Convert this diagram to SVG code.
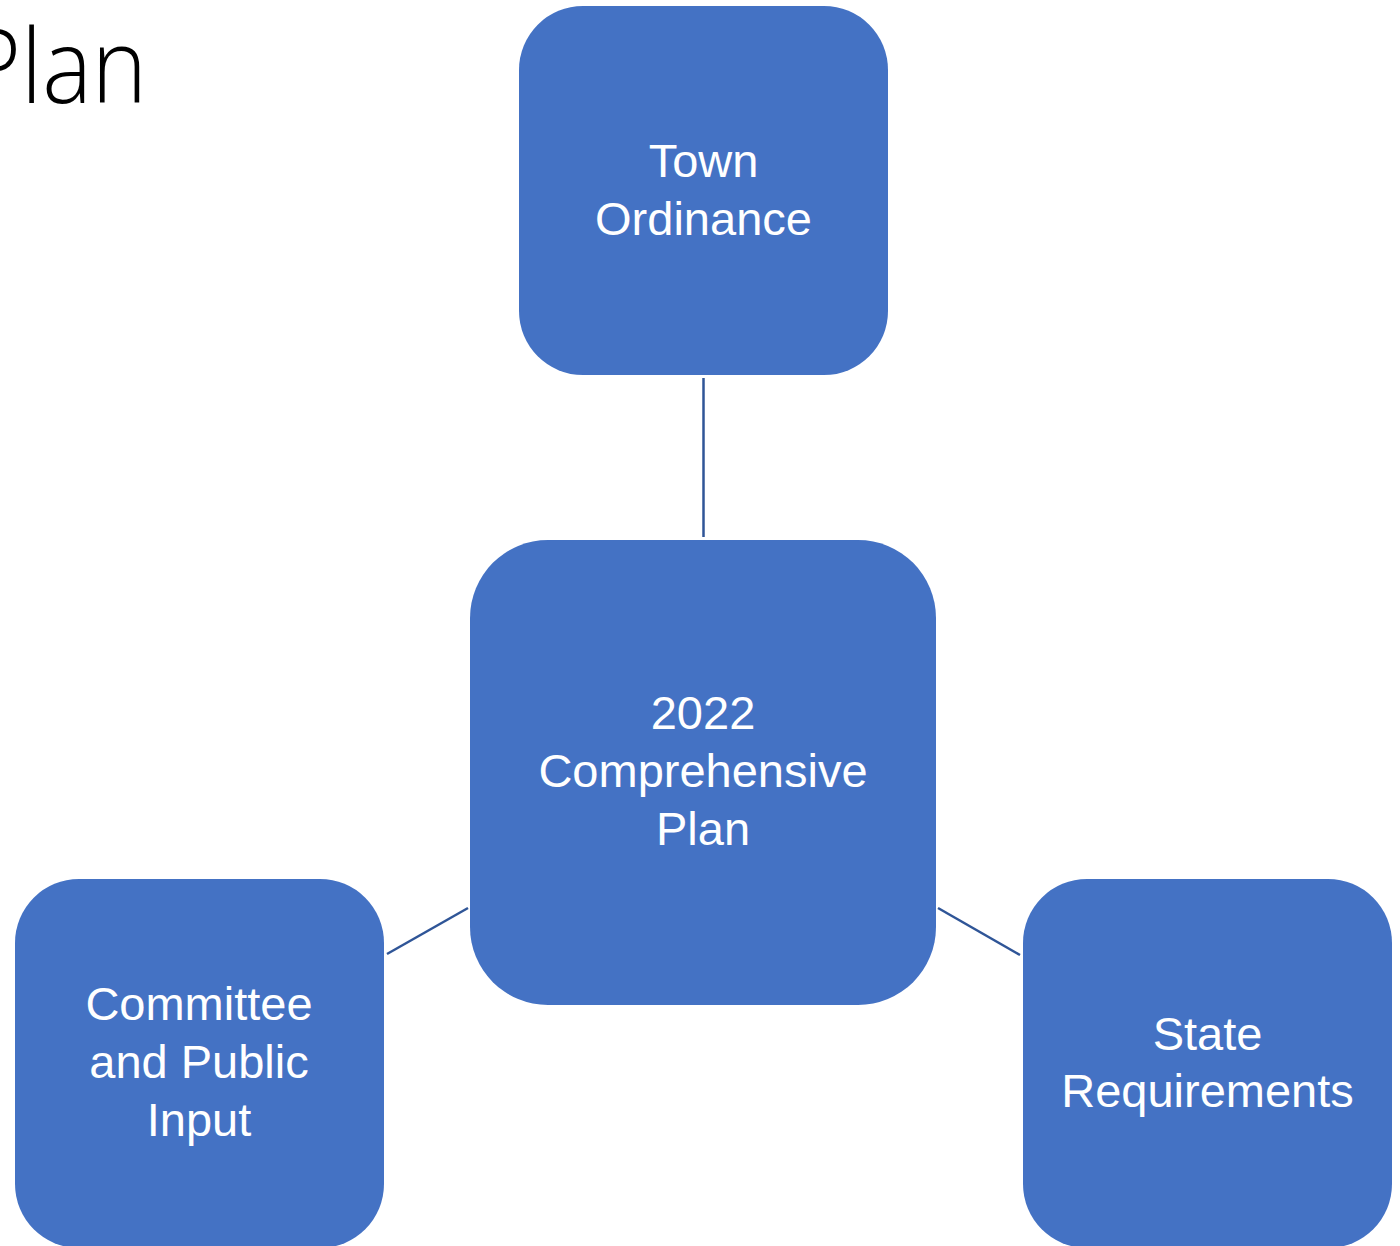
<svg xmlns="http://www.w3.org/2000/svg" width="1400" height="1246" viewBox="0 0 1400 1246">
<style>
.box{fill:#4472C4;}
.lbl{fill:#FFFFFF;font-family:"Liberation Sans",Arial,sans-serif;font-size:47px;text-anchor:middle;}
.conn{stroke:#2F5597;stroke-width:2.5;fill:none;}
.title{fill:#000000;font-family:"Open Sans","Liberation Sans",Arial,sans-serif;font-weight:300;font-size:104px;text-anchor:end;}
</style>
<rect width="1400" height="1246" fill="#FFFFFF"/>
<text class="title" transform="translate(147,103) scale(0.9,1)">Plan</text>
<g id="connectors">
<line class="conn" x1="703.5" y1="378" x2="703.5" y2="537"/>
<line class="conn" x1="387" y1="954" x2="468" y2="908"/>
<line class="conn" x1="938" y1="908" x2="1020" y2="955"/>
</g>
<g id="town-ordinance">
<rect class="box" x="519" y="6" width="369" height="369" rx="64"/>
<text class="lbl" x="703.5" y="177">Town</text>
<text class="lbl" x="703.5" y="235">Ordinance</text>
</g>
<g id="comprehensive-plan">
<rect class="box" x="470" y="540" width="466" height="465" rx="78"/>
<text class="lbl" x="703" y="729">2022</text>
<text class="lbl" x="703" y="787">Comprehensive</text>
<text class="lbl" x="703" y="845">Plan</text>
</g>
<g id="committee-public-input">
<rect class="box" x="15" y="879" width="369" height="369" rx="64"/>
<text class="lbl" x="199" y="1020">Committee</text>
<text class="lbl" x="199" y="1078">and Public</text>
<text class="lbl" x="199" y="1136">Input</text>
</g>
<g id="state-requirements">
<rect class="box" x="1023" y="879" width="369" height="369" rx="64"/>
<text class="lbl" x="1207.5" y="1050">State</text>
<text class="lbl" x="1207.5" y="1107">Requirements</text>
</g>
</svg>
